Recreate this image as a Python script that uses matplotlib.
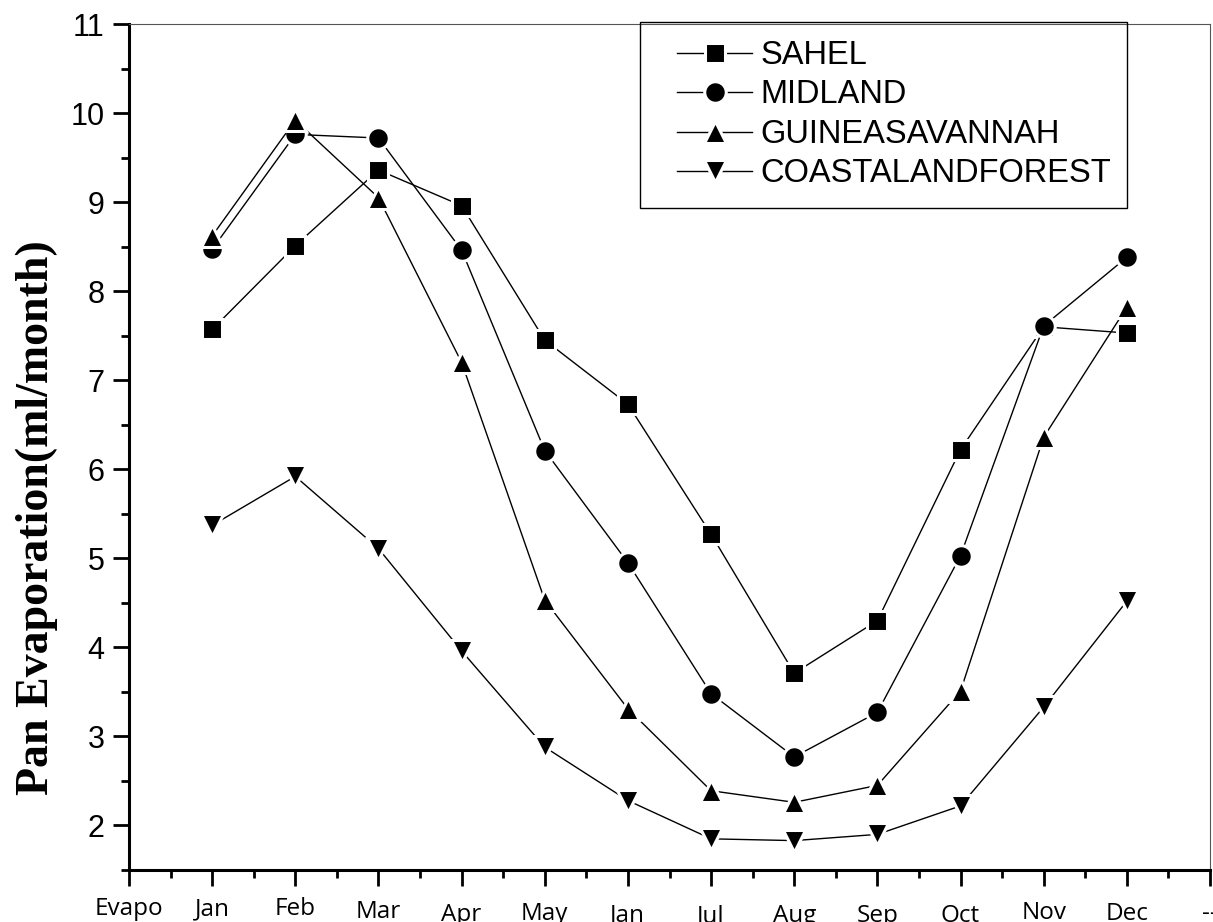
import numpy as np
import matplotlib.pyplot as plt
from matplotlib.ticker import MultipleLocator
from matplotlib.transforms import ScaledTranslation
from matplotlib.patches import Rectangle

tick_labels = ['Evapo', 'Jan', 'Feb', 'Mar', 'Apr', 'May', 'Jan',
               'Jul', 'Aug', 'Sep', 'Oct', 'Nov', 'Dec', '--']
months = np.arange(1, 13)

sahel = [7.57, 8.51, 9.36, 8.96, 7.45, 6.73, 5.27, 3.71, 4.30, 6.22, 7.60, 7.53]
midland = [8.47, 9.76, 9.72, 8.46, 6.21, 4.95, 3.48, 2.77, 3.27, 5.03, 7.61, 8.38]
guinea = [8.62, 9.92, 9.05, 7.20, 4.53, 3.31, 2.39, 2.26, 2.45, 3.51, 6.36, 7.82]
coastal = [5.37, 5.92, 5.11, 3.96, 2.88, 2.28, 1.85, 1.83, 1.90, 2.22, 3.33, 4.52]

series = [('SAHEL', sahel, 's', 14),
          ('MIDLAND', midland, 'o', 15.5),
          ('GUINEASAVANNAH', guinea, '^', 16.5),
          ('COASTALANDFOREST', coastal, 'v', 16.5)]

fig = plt.figure(figsize=(12.13, 9.22), dpi=100)
ax = fig.add_axes([129 / 1213, 1 - 870 / 922, (1210 - 129) / 1213, (870 - 24) / 922])

for name, vals, mk, ms in series:
    ax.plot(months, vals, color='black', lw=1.0, marker=mk, markersize=ms,
            markerfacecolor='black', markeredgecolor='white',
            markeredgewidth=2.2, label=name)

ax.set_xlim(0, 13)
ax.set_ylim(1.5, 11)
ax.set_xticks(np.arange(0, 14))
ax.set_xticklabels(tick_labels, fontfamily='Open Sans', fontsize=17.5)
ax.xaxis.set_minor_locator(MultipleLocator(0.5))
ax.yaxis.set_minor_locator(MultipleLocator(0.5))
ax.set_yticks(np.arange(2, 12))
for lab in ax.get_yticklabels():
    lab.set_fontfamily('Liberation Sans')
    lab.set_fontsize(22)

ax.tick_params(which='major', direction='out', length=11.5, width=2.0)
ax.tick_params(which='minor', direction='out', length=6, width=2.0)
ax.tick_params(axis='x', which='major', pad=8)
ax.tick_params(axis='y', which='major', pad=6)

# staggered x labels as in the original
shifts = [0, 0, 0, 3, 6, 5, 6, 7, 7, 7, 7, 4, 5, 5]
for lab, dy in zip(ax.get_xticklabels(), shifts):
    lab.set_transform(lab.get_transform() +
                      ScaledTranslation(0, -dy / 100, fig.dpi_scale_trans))

for side in ['left', 'bottom']:
    ax.spines[side].set_linewidth(2.2)
for side in ['top', 'right']:
    ax.spines[side].set_linewidth(0.8)
    ax.spines[side].set_color('#555555')

ax.set_ylabel('Pan Evaporation(ml/month)', fontfamily='Liberation Serif',
              fontweight='bold', fontsize=33)
ax.yaxis.set_label_coords(-0.066, 0.416)

leg = ax.legend(loc='upper left', bbox_to_anchor=(677 / 1213, 1 - 40 / 922),
                bbox_transform=fig.transFigure, borderaxespad=0, borderpad=0,
                prop={'family': 'Liberation Sans', 'size': 23.5},
                handlelength=2.3, handletextpad=0.25, labelspacing=0.26,
                frameon=False)
fig.add_artist(Rectangle((640 / 1213, 1 - 208 / 922), 487 / 1213, 186 / 922,
                         transform=fig.transFigure, facecolor='none',
                         edgecolor='black', lw=1.0, zorder=5))

fig.savefig('out.png', dpi=100)
